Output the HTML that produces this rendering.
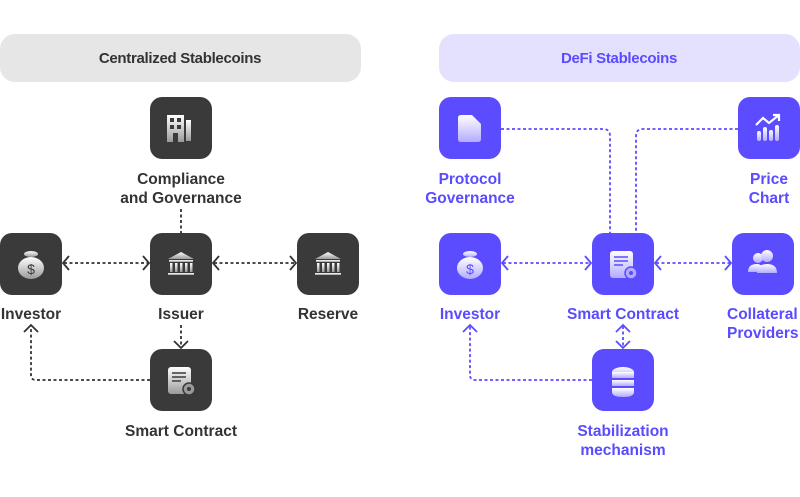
<!DOCTYPE html>
<html><head><meta charset="utf-8"><style>
body{margin:0;background:#fff;width:800px;height:492px;overflow:hidden}
svg text{font-family:"Liberation Sans",sans-serif;font-weight:bold}
</style></head><body>
<svg width="800" height="492" viewBox="0 0 800 492" xmlns="http://www.w3.org/2000/svg">
<defs>
<linearGradient id="g" x1="0" y1="0" x2="0" y2="1"><stop offset="0" stop-color="#fff"/><stop offset="1" stop-color="#9a9a9a"/></linearGradient>
<linearGradient id="p" x1="0" y1="0" x2="0" y2="1"><stop offset="0" stop-color="#fff"/><stop offset="1" stop-color="#b3abff"/></linearGradient>
</defs>
<rect x="0" y="34" width="361" height="48" rx="15" fill="#e6e6e6"/>
<text x="180" y="63" font-size="15" fill="#333" text-anchor="middle" letter-spacing="-0.3">Centralized Stablecoins</text>
<rect x="439" y="34" width="361" height="48" rx="15" fill="#e4e1fe"/>
<text x="619" y="63" font-size="15" fill="#5a4bff" text-anchor="middle" letter-spacing="-0.3">DeFi Stablecoins</text>

<g stroke="#333" stroke-width="1.8" stroke-dasharray="3,2.5" fill="none">
<line x1="181" y1="209" x2="181" y2="233"/>
<line x1="64" y1="263" x2="148" y2="263"/>
<line x1="214" y1="263" x2="295" y2="263"/>
<line x1="181" y1="325" x2="181" y2="347"/>
<path d="M150 380 H36 Q31 380 31 375 V326"/>
</g>
<g stroke="#333" stroke-width="1.8" fill="none">
<path d="M69 256 L63 263 L69 270"/><path d="M143 256 L149 263 L143 270"/>
<path d="M219 256 L213 263 L219 270"/><path d="M290 256 L296 263 L290 270"/>
<path d="M174 341 L181 348 L188 341"/>
<path d="M24 332 L31 325 L38 332"/>
</g>
<g stroke="#5b4cff" stroke-width="1.8" stroke-dasharray="3,2.5" fill="none">
<path d="M501 129 H603 Q610 129 610 136 V233"/>
<path d="M738 129 H643 Q636 129 636 136 V233"/>
<line x1="503" y1="263" x2="590" y2="263"/>
<line x1="656" y1="263" x2="730" y2="263"/>
<line x1="623" y1="326" x2="623" y2="347"/>
<path d="M592 380 H475 Q470 380 470 375 V326"/>
</g>
<g stroke="#5b4cff" stroke-width="1.8" fill="none">
<path d="M508 256 L502 263 L508 270"/><path d="M585 256 L591 263 L585 270"/>
<path d="M661 256 L655 263 L661 270"/><path d="M725 256 L731 263 L725 270"/>
<path d="M616 332 L623 325 L630 332"/><path d="M616 341 L623 348 L630 341"/>
<path d="M463 332 L470 325 L477 332"/>
</g>

<g fill="#3a3a3a">
<rect x="150" y="97" width="62" height="62" rx="12"/>
<rect x="0" y="233" width="62" height="62" rx="12"/>
<rect x="150" y="233" width="62" height="62" rx="12"/>
<rect x="297" y="233" width="62" height="62" rx="12"/>
<rect x="150" y="349" width="62" height="62" rx="12"/>
</g>
<rect x="167" y="115" width="17" height="27" fill="url(#g)"/><rect x="186" y="120" width="5" height="21" fill="url(#g)"/>
<g fill="#3a3a3a"><rect x="170" y="118" width="4" height="4"/><rect x="177" y="118" width="4" height="4"/><rect x="170" y="125" width="4" height="4"/><rect x="177" y="125" width="4" height="4"/><rect x="173" y="133" width="5" height="9"/></g>
<ellipse cx="31" cy="268" rx="13" ry="11" fill="url(#g)"/><ellipse cx="31" cy="254" rx="7" ry="3" fill="url(#g)"/>
<text x="31" y="274" font-size="14" fill="#3a3a3a" text-anchor="middle" style="font-weight:normal">$</text>
<g fill="url(#g)">
<path d="M181 252 L194 259 H168 Z"/><rect x="169" y="260" width="24" height="2"/><rect x="170" y="263" width="2.5" height="9"/><rect x="175" y="263" width="2.5" height="9"/><rect x="180" y="263" width="2.5" height="9"/><rect x="185" y="263" width="2.5" height="9"/><rect x="190" y="263" width="2.5" height="9"/><rect x="168" y="273" width="26" height="2"/>
<path d="M328 252 L341 259 H315 Z"/><rect x="316" y="260" width="24" height="2"/><rect x="317" y="263" width="2.5" height="9"/><rect x="322" y="263" width="2.5" height="9"/><rect x="327" y="263" width="2.5" height="9"/><rect x="332" y="263" width="2.5" height="9"/><rect x="337" y="263" width="2.5" height="9"/><rect x="315" y="273" width="26" height="2"/>
</g>
<rect x="168" y="367" width="23" height="27" rx="3" fill="url(#g)"/>
<g stroke="#3a3a3a" stroke-width="1.5"><line x1="172" y1="373" x2="186" y2="373"/><line x1="172" y1="377" x2="186" y2="377"/><line x1="172" y1="381" x2="181" y2="381"/></g>
<circle cx="189" cy="389" r="6" fill="#9a9a9a" stroke="#3a3a3a" stroke-width="1.5"/><circle cx="189" cy="389" r="2" fill="#3a3a3a"/>

<g fill="#5b4cff">
<rect x="439" y="97" width="62" height="62" rx="12"/>
<rect x="738" y="97" width="62" height="62" rx="12"/>
<rect x="439" y="233" width="62" height="62" rx="12"/>
<rect x="592" y="233" width="62" height="62" rx="12"/>
<rect x="732" y="233" width="62" height="62" rx="12"/>
<rect x="592" y="349" width="62" height="62" rx="12"/>
</g>
<path d="M459 115 H472 L481 124 V139 Q481 142 478 142 H461 Q458 142 458 139 V118 Q458 115 461 115 Z" fill="url(#p)"/>
<g fill="url(#p)"><rect x="757" y="131" width="4" height="10" rx="2"/><rect x="763" y="127" width="4" height="14" rx="2"/><rect x="769" y="130" width="4" height="11" rx="2"/><rect x="775" y="125" width="4" height="16" rx="2"/></g>
<path d="M756 125 L763 118 L769 123 L779 115 M773 115 H779 V121" stroke="#fff" stroke-width="2.2" fill="none"/>
<ellipse cx="470" cy="268" rx="13" ry="11" fill="url(#p)"/><ellipse cx="470" cy="254" rx="7" ry="3" fill="url(#p)"/>
<text x="470" y="274" font-size="14" fill="#5b4cff" text-anchor="middle" style="font-weight:normal">$</text>
<rect x="610" y="251" width="23" height="27" rx="3" fill="url(#p)"/>
<g stroke="#5b4cff" stroke-width="1.5"><line x1="614" y1="257" x2="628" y2="257"/><line x1="614" y1="261" x2="628" y2="261"/><line x1="614" y1="265" x2="623" y2="265"/></g>
<circle cx="631" cy="273" r="6" fill="#b3abff" stroke="#5b4cff" stroke-width="1.5"/><circle cx="631" cy="273" r="2" fill="#5b4cff"/>
<g fill="url(#p)"><circle cx="758" cy="258" r="5"/><path d="M748 272 Q748 264 757 264 Q763 264 764 272 Z"/><circle cx="767" cy="256" r="6"/><path d="M757 273 Q757 264 767 264 Q777 264 777 273 Z"/></g>
<g fill="url(#p)"><ellipse cx="623" cy="372" rx="11" ry="5"/><rect x="612" y="372" width="22" height="6"/><rect x="612" y="380" width="22" height="6"/><path d="M612 388 H634 V392 Q634 397 623 397 Q612 397 612 392 Z"/></g>

<g font-size="15.5" fill="#333" text-anchor="middle">
<text x="181" y="184">Compliance</text><text x="181" y="203">and Governance</text>
<text x="31" y="319">Investor</text><text x="181" y="319">Issuer</text><text x="328" y="319">Reserve</text>
<text x="181" y="436">Smart Contract</text>
</g>
<g font-size="15.5" fill="#5a4bff" text-anchor="middle">
<text x="470" y="184">Protocol</text><text x="470" y="203">Governance</text>
<text x="769" y="184">Price</text><text x="769" y="203">Chart</text>
<text x="470" y="319">Investor</text><text x="623" y="319">Smart Contract</text>
<text x="727" y="319" text-anchor="start">Collateral</text><text x="727" y="338" text-anchor="start">Providers</text>
<text x="623" y="436">Stabilization</text><text x="623" y="455">mechanism</text>
</g>
</svg>
</body></html>
